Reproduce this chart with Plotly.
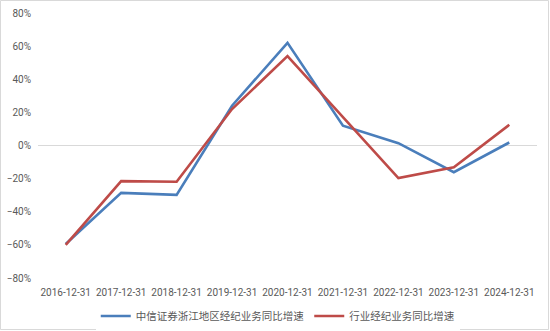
import plotly.graph_objects as go

# Year-end reporting dates (category axis)
dates = ["2016-12-31", "2017-12-31", "2018-12-31", "2019-12-31", "2020-12-31",
         "2021-12-31", "2022-12-31", "2023-12-31", "2024-12-31"]

# YoY growth of brokerage business, in %
citic_zj = [-59.5, -28.6, -29.8, 24.0, 62.0, 12.0, 1.4, -16.1, 1.8]
industry = [-60.0, -21.5, -21.9, 22.0, 54.0, 17.0, -19.7, -13.1, 12.5]

series_names = ["中信证券浙江地区经纪业务同比增速", "行业经纪业务同比增速"]
colors = ["#4A7EBB", "#BE4B48"]

W, H = 550, 331
ML, MR, MT, MB = 38, 13, 13, 53
pw, ph = W - ML - MR, H - MT - MB

fig = go.Figure()
for name, vals, c in zip(series_names, [citic_zj, industry], colors):
    fig.add_trace(go.Scatter(
        x=dates, y=vals, mode="lines", name=name,
        line=dict(color=c, width=2.6),
    ))

# thin light-grey frame around the whole chart
fig.add_shape(
    type="rect", xref="paper", yref="paper",
    x0=(0.5 - ML) / pw, x1=(W - 1.5 - ML) / pw,
    y0=(MT + ph - (H - 1.5)) / ph, y1=(MT + ph - 0.5) / ph,
    line=dict(color="#D9D9D9", width=1), layer="above",
)

fig.update_layout(
    width=W, height=H,
    margin=dict(l=ML, r=MR, t=MT, b=MB, autoexpand=False),
    paper_bgcolor="white", plot_bgcolor="white",
    font=dict(family="Roboto, Noto Sans CJK SC", size=10, color="#595959"),
    showlegend=True,
    legend=dict(
        orientation="h", xref="container", yref="container",
        x=0.505, xanchor="center", y=(H - 316) / H, yanchor="middle",
        font=dict(family="Noto Sans CJK SC", size=10.5, color="#595959"),
        itemwidth=30, tracegroupgap=0,
    ),
    xaxis=dict(
        type="category", range=[-0.5, len(dates) - 0.5],
        showgrid=False, zeroline=False, showline=False, ticks="",
        tickfont=dict(size=10, color="#595959"), ticklabelstandoff=7,
    ),
    yaxis=dict(
        range=[-80, 80], dtick=20, ticksuffix="%",
        showgrid=False, zeroline=True, zerolinecolor="#D9D9D9", zerolinewidth=1,
        showline=False, ticks="",
        tickfont=dict(size=10, color="#595959"), ticklabelstandoff=6,
    ),
)

fig.write_html("out.html")
